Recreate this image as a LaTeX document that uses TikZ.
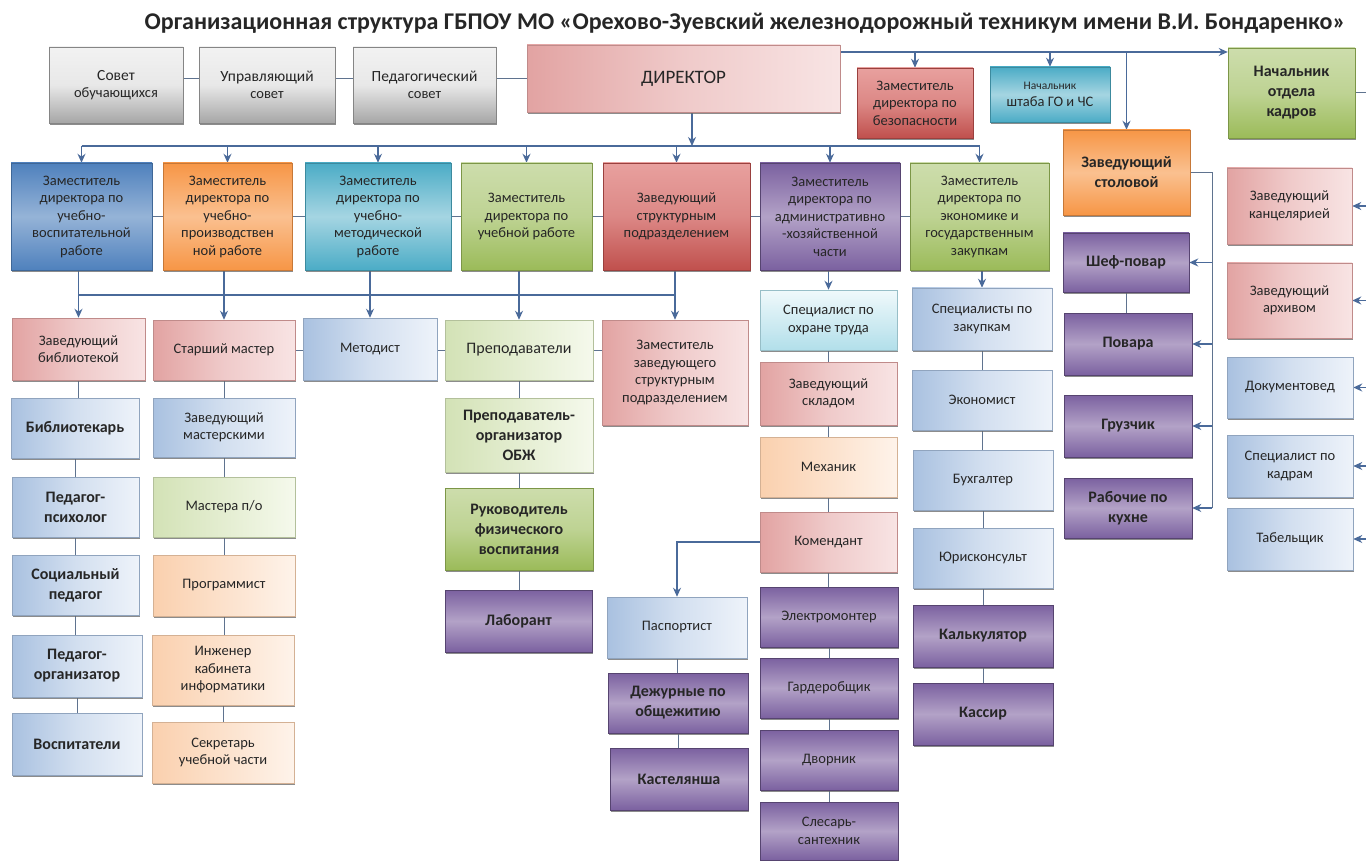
\documentclass[tikz,border=0pt]{standalone}
\usepackage{fontspec}
\setmainfont{Carlito}
\usetikzlibrary{arrows.meta,shadows,calc}
\pgfdeclarelayer{bg}
\pgfsetlayers{bg,main}

\definecolor{txt}{HTML}{262626}
\definecolor{lnblue}{HTML}{4A6A9A}
\definecolor{grayL}{HTML}{F2F2F2}\definecolor{grayD}{HTML}{A6A6A6}
\definecolor{pinkL}{HTML}{F8E4E4}\definecolor{pinkD}{HTML}{E2A3A2}
\definecolor{redL}{HTML}{E8A09E}\definecolor{redD}{HTML}{C0504D}
\definecolor{blueL}{HTML}{95B3D7}\definecolor{blueD}{HTML}{4F81BD}
\definecolor{orL}{HTML}{FAC090}\definecolor{orD}{HTML}{F79646}
\definecolor{tealL}{HTML}{A5D5E2}\definecolor{tealD}{HTML}{4BACC6}
\definecolor{grL}{HTML}{CDDDAC}\definecolor{grD}{HTML}{9BBB59}
\definecolor{puL}{HTML}{B3A2C7}\definecolor{puD}{HTML}{7B61A0}
\definecolor{lbL}{HTML}{EEF3FA}\definecolor{lbD}{HTML}{A9C1E0}
\definecolor{lgL}{HTML}{F5F9EC}\definecolor{lgD}{HTML}{D3E2B6}
\definecolor{loL}{HTML}{FEF3EA}\definecolor{loD}{HTML}{FAD0AE}
\definecolor{ltL}{HTML}{F0F9FB}\definecolor{ltD}{HTML}{B2DFEA}

\newcommand\obox[7]{\node[#1, minimum width={#5-#3}, minimum height={#6-#4}] (#2) at ({(#3+#5)/2},{-(#4+#6)/2}) {#7};}

\tikzset{
  base/.style={line width=0.5pt, inner sep=1pt, align=center, text=txt,
    font=\fontsize{14.5}{17.5}\selectfont,
    drop shadow={shadow xshift=1.2pt, shadow yshift=-2pt, fill=black!60, opacity=0.75}},
  big/.style={font=\bfseries\fontsize{16}{20}\selectfont},
  gbox/.style={base, draw=grayD!80!black, top color=grayL, bottom color=grayD, middle color=gray!18},
  pinkbox/.style={base, draw=pinkD!85!black, left color=pinkD, right color=pinkL, middle color=pinkL!60!pinkD},
  redbox/.style={base, draw=redD!80!black, top color=redL, bottom color=redD, middle color=redL!70!redD},
  bluebox/.style={base, draw=blueD!80!black, top color=blueD, bottom color=blueD, middle color=blueL},
  orbox/.style={base, draw=orD!80!black, top color=orD, bottom color=orD, middle color=orL},
  tealbox/.style={base, draw=tealD!80!black, top color=tealD, bottom color=tealD, middle color=tealL},
  grbox/.style={base, draw=grD!80!black, top color=grL, bottom color=grD, middle color=grL!70!grD},
  pubox/.style={base, draw=puD!70!black, top color=puD, bottom color=puD, middle color=puL},
  lbbox/.style={base, draw=lbD!85!black, left color=lbD, right color=lbL, middle color=lbL!60!lbD},
  lgbox/.style={base, draw=lgD!85!black, left color=lgD, right color=lgL, middle color=lgL!50!lgD},
  lobox/.style={base, draw=loD!85!black, left color=loD, right color=loL, middle color=loL!50!loD},
  ltbox/.style={base, draw=ltD!85!black, top color=ltL, bottom color=ltD},
  arr/.style={draw=lnblue, line width=1.2pt, -{Stealth[length=9pt,width=8pt]}},
  ln/.style={draw=lnblue, line width=1.2pt},
  lnk/.style={draw=lnblue!60!gray, line width=1pt},
}

\begin{document}
\begin{tikzpicture}[x=1pt,y=1pt]
\useasboundingbox (0,0) rectangle (1366,-861);

\node[font=\bfseries\fontsize{24}{28}\selectfont, text=txt] (title) at (745,-23)
  {Организационная структура ГБПОУ МО «Орехово-Зуевский железнодорожный техникум имени В.И. Бондаренко»};

% top row
\obox{gbox}{sovet}{49}{47}{183}{123}{\fontsize{15.5}{19}\selectfont Совет\\обучающихся}
\obox{gbox}{upr}{199}{47}{335}{123}{\fontsize{15.5}{19}\selectfont Управляющий\\совет}
\obox{gbox}{ped}{353}{47}{496}{123}{\fontsize{15.5}{19}\selectfont Педагогический\\совет}
\obox{pinkbox}{dir}{527}{45}{840}{112}{\fontsize{19}{22}\selectfont ДИРЕКТОР}
\obox{redbox}{bez}{857}{68}{973}{138}{Заместитель\\директора по\\безопасности}
\obox{tealbox}{gochs}{990}{67}{1110}{122}{\fontsize{11.5}{14}\selectfont Начальник\\штаба ГО и ЧС}
\obox{grbox,big}{kadry}{1228}{48}{1355}{138}{Начальник\\отдела\\кадров}
\obox{orbox,big}{stol}{1063}{130}{1190}{215}{Заведующий\\столовой}

% second row
\obox{bluebox}{z1}{11}{163}{152}{270}{Заместитель\\директора по\\учебно-\\воспитательной\\работе}
\obox{orbox}{z2}{163}{163}{292}{270}{Заместитель\\директора по\\учебно-\\производствен\\ной работе}
\obox{tealbox}{z3}{305}{163}{451}{270}{Заместитель\\директора по\\учебно-\\методической\\работе}
\obox{grbox}{z4}{461}{163}{592}{270}{Заместитель\\директора по\\учебной работе}
\obox{redbox}{z5}{603}{163}{750}{270}{Заведующий\\структурным\\подразделением}
\obox{pubox}{z6}{760}{163}{900}{270}{Заместитель\\директора по\\административно\\-хозяйственной\\части}
\obox{grbox}{z7}{910}{163}{1049}{270}{Заместитель\\директора по\\экономике и\\государственным\\закупкам}

% third row
\obox{pinkbox}{lib}{12}{318}{145}{380}{Заведующий\\библиотекой}
\obox{pinkbox}{smaster}{153}{320}{295}{380}{Старший мастер}
\obox{lbbox}{metod}{303}{318}{437}{380}{Методист}
\obox{lgbox,big}{prep}{445}{320}{593}{380}{\mdseries\fontsize{16}{19}\selectfont Преподаватели}
\obox{pinkbox}{zamzav}{602}{320}{748}{425}{Заместитель\\заведующего\\структурным\\подразделением}

% column A
\obox{lbbox,big}{bibl}{11}{398}{139}{458}{Библиотекарь}
\obox{lbbox,big}{psych}{12}{477}{139}{537}{Педагог-\\психолог}
\obox{lbbox,big}{socped}{12}{555}{139}{615}{Социальный\\педагог}
\obox{lbbox,big}{pedorg}{12}{635}{142}{697}{Педагог-\\организатор}
\obox{lbbox,big}{vosp}{12}{713}{142}{775}{Воспитатели}

% column B
\obox{lbbox}{zmast}{153}{398}{295}{457}{Заведующий\\мастерскими}
\obox{lgbox}{mastera}{153}{477}{295}{537}{Мастера п/о}
\obox{lobox}{progr}{153}{555}{295}{616}{Программист}
\obox{lobox}{inzh}{152}{635}{294}{705}{Инженер\\кабинета\\информатики}
\obox{lobox}{sekr}{152}{722}{294}{783}{Секретарь\\учебной части}

% column C
\obox{lgbox,big}{obzh}{445}{398}{593}{472}{Преподаватель-\\организатор\\ОБЖ}
\obox{grbox,big}{fiz}{445}{488}{593}{570}{Руководитель\\физического\\воспитания}
\obox{pubox,big}{lab}{445}{590}{592}{652}{Лаборант}

% column D
\obox{lbbox}{pasp}{607}{597}{747}{658}{Паспортист}
\obox{pubox,big}{dezh}{608}{673}{748}{733}{Дежурные по\\общежитию}
\obox{pubox,big}{kast}{610}{748}{748}{810}{Кастелянша}

% column E
\obox{ltbox}{ohr}{760}{290}{897}{350}{Специалист по\\охране труда}
\obox{pinkbox}{sklad}{760}{362}{897}{425}{Заведующий\\складом}
\obox{lobox}{mech}{760}{437}{897}{497}{Механик}
\obox{pinkbox}{kom}{760}{512}{897}{572}{Комендант}
\obox{pubox}{elek}{760}{587}{898}{647}{Электромонтер}
\obox{pubox}{gard}{760}{658}{898}{718}{Гардеробщик}
\obox{pubox}{dvor}{760}{730}{898}{790}{Дворник}
\obox{pubox}{sles}{760}{802}{898}{860}{Слесарь-\\сантехник}

% column F
\obox{lbbox}{zak}{912}{288}{1052}{350}{Специалисты по\\закупкам}
\obox{lbbox}{econ}{912}{370}{1052}{430}{Экономист}
\obox{lbbox}{buh}{913}{450}{1053}{510}{Бухгалтер}
\obox{lbbox}{jur}{913}{528}{1053}{588}{Юрисконсульт}
\obox{pubox,big}{kalk}{913}{605}{1053}{667}{Калькулятор}
\obox{pubox,big}{kass}{913}{683}{1053}{745}{Кассир}

% column G
\obox{pubox,big}{shef}{1063}{233}{1189}{292}{Шеф-повар}
\obox{pubox,big}{povar}{1064}{313}{1192}{375}{Повара}
\obox{pubox,big}{gruz}{1064}{395}{1192}{457}{Грузчик}
\obox{pubox,big}{rab}{1064}{478}{1192}{538}{Рабочие по\\кухне}

% column H
\obox{pinkbox}{kanc}{1227}{168}{1352}{244}{Заведующий\\канцелярией}
\obox{pinkbox}{arch}{1227}{263}{1352}{338}{Заведующий\\архивом}
\obox{lbbox}{doc}{1227}{357}{1353}{418}{Документовед}
\obox{lbbox}{spk}{1227}{435}{1353}{497}{Специалист по\\кадрам}
\obox{lbbox}{tab}{1227}{508}{1353}{570}{Табельщик}

\begin{pgfonlayer}{bg}
\fill[white] (0,0) rectangle (1366,-861);
% top row links
\draw[lnk] (sovet.east |- dir) -- (upr.west |- dir);
\draw[lnk] (upr.east |- dir) -- (ped.west |- dir);
\draw[lnk] (ped.east |- dir) -- (dir.west);
% director top-right line
\coordinate (dtop) at (840,-52);
\draw[arr] (dtop) -- (dtop -| kadry.west);
\draw[arr] (dtop -| bez.north) -- (bez.north);
\draw[arr] (dtop -| gochs.north) -- (gochs.north);
\draw[arr] (dtop -| stol.north) -- (stol.north);
% director to second row
\coordinate (bus1) at (692,-146);
\draw[arr] (dir.south -| bus1) -- (bus1);
\draw[ln] (bus1 -| z1.north) -- (bus1 -| z7.north);
\foreach \n in {z1,z2,z3,z4,z5,z6,z7} \draw[arr] (bus1 -| \n.north) -- (\n.north);
% second row middle links
\draw[lnk] (z1.east) -- (z2.west);
\draw[lnk] (z2.east) -- (z3.west);
\draw[lnk] (z3.east) -- (z4.west);
\draw[lnk] (z4.east) -- (z5.west);
\draw[lnk] (z5.east) -- (z6.west);
\draw[lnk] (z6.east) -- (z7.west);
% second to third row
\coordinate (bus2) at (0,-295);
\draw[ln] (z1.south -| lib.north) -- (lib.north |- bus2);
\draw[ln] (z2.south -| smaster.north) -- (smaster.north |- bus2);
\draw[ln] (z3.south -| metod.north) -- (metod.north |- bus2);
\draw[ln] (z4.south -| prep.north) -- (prep.north |- bus2);
\draw[ln] (z5.south -| zamzav.north) -- (zamzav.north |- bus2);
\draw[ln] (lib.north |- bus2) -- (zamzav.north |- bus2);
\foreach \n in {lib,smaster,metod,prep,zamzav} \draw[arr] (\n.north |- bus2) -- (\n.north);
\draw[arr] (z6.south -| ohr.north) -- (ohr.north);
\draw[arr] (z7.south -| zak.north) -- (zak.north);
% third row horizontal links
\draw[lnk] (smaster.east) -- (metod.west |- smaster.east);
\draw[lnk] (metod.east |- smaster.east) -- (prep.west |- smaster.east);
\draw[lnk] (prep.east) -- (zamzav.west |- prep.east);
% columns
\draw[lnk] (lib.south) -- (lib.south |- bibl.north);
\draw[lnk] (bibl.south) -- (bibl.south |- psych.north);
\draw[lnk] (psych.south) -- (psych.south |- socped.north);
\draw[lnk] (socped.south) -- (socped.south |- pedorg.north);
\draw[lnk] (pedorg.south) -- (pedorg.south |- vosp.north);
\draw[lnk] (smaster.south) -- (zmast.north);
\draw[lnk] (zmast.south) -- (mastera.north);
\draw[lnk] (mastera.south) -- (progr.north);
\draw[lnk] (progr.south) -- (progr.south |- inzh.north);
\draw[lnk] (inzh.south) -- (sekr.north);
\draw[lnk] (prep.south) -- (obzh.north);
\draw[lnk] (obzh.south) -- (fiz.north);
\draw[lnk] (fiz.south) -- (fiz.south |- lab.north);
\draw[lnk] (pasp.south) -- (pasp.south |- dezh.north);
\draw[lnk] (dezh.south) -- (dezh.south |- kast.north);
\draw[lnk] (ohr.south) -- (sklad.north);
\draw[lnk] (sklad.south) -- (mech.north);
\draw[lnk] (mech.south) -- (kom.north);
\draw[lnk] (kom.south) -- (kom.south |- elek.north);
\draw[lnk] (elek.south) -- (gard.north);
\draw[lnk] (gard.south) -- (dvor.north);
\draw[lnk] (dvor.south) -- (sles.north);
\draw[lnk] (zak.south) -- (zak.south |- econ.north);
\draw[lnk] (econ.south) -- (econ.south |- buh.north);
\draw[lnk] (buh.south) -- (jur.north);
\draw[lnk] (jur.south) -- (kalk.north);
\draw[lnk] (kalk.south) -- (kass.north);
\draw[lnk] (shef.south) -- (shef.south |- povar.north);
% komendant to pasportist
\draw[arr] (kom.west) -| (pasp.north);
% canteen
\coordinate (sv) at (1212,-172.5);
\draw[lnk] (stol.east) -- (sv) -- (sv |- rab.east);
\foreach \n in {shef,povar,gruz,rab} \draw[arr] (sv |- \n.east) -- (\n.east);
% HR
\coordinate (kr) at (1368,-93);
\draw[lnk] (kadry.east) -- (kr) -- (kr |- tab.east);
\foreach \n in {kanc,arch,doc,spk,tab} \draw[arr] (kr |- \n.east) -- (\n.east);
\end{pgfonlayer}
\end{tikzpicture}
\end{document}
